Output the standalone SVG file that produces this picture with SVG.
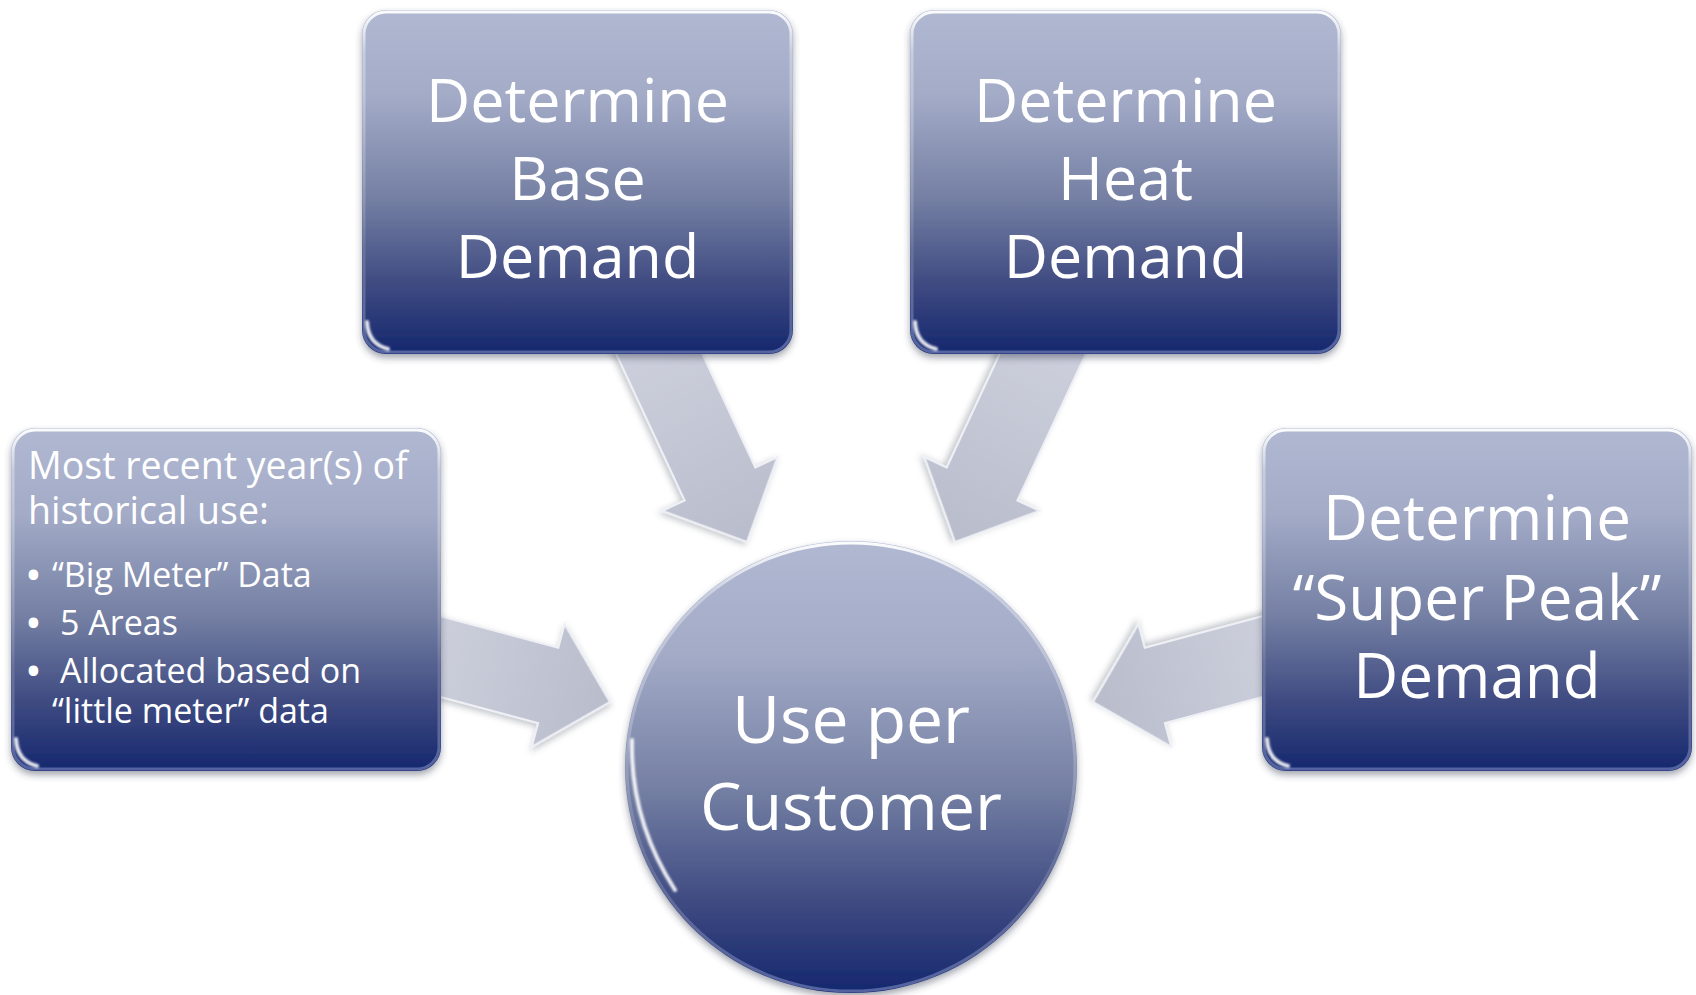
<svg xmlns="http://www.w3.org/2000/svg" width="1696" height="995" viewBox="0 0 1696 995">
<defs>
<linearGradient id="nodeFill2" x1="0" y1="0" x2="0" y2="1">
<stop offset="0" stop-color="#b0b8d2"/>
<stop offset="0.25" stop-color="#a3abc7"/>
<stop offset="0.55" stop-color="#747fa3"/>
<stop offset="0.8" stop-color="#3e4a81"/>
<stop offset="1" stop-color="#15276e"/>
</linearGradient>
<linearGradient id="rim" x1="0" y1="0" x2="0" y2="1">
<stop offset="0" stop-color="#ffffff" stop-opacity="0.95"/>
<stop offset="0.12" stop-color="#ffffff" stop-opacity="0.35"/>
<stop offset="0.7" stop-color="#ffffff" stop-opacity="0.12"/>
<stop offset="1" stop-color="#c8d2ff" stop-opacity="0.35"/>
</linearGradient>
<linearGradient id="arrowFill" x1="0" y1="0" x2="1" y2="0">
<stop offset="0" stop-color="#cdd0dc"/>
<stop offset="1" stop-color="#b9bccb"/>
</linearGradient>
<filter id="shadow" x="-10%" y="-10%" width="120%" height="125%">
<feDropShadow dx="0" dy="4" stdDeviation="3.5" flood-color="#303850" flood-opacity="0.45"/>
</filter>
<filter id="ashadow" x="-20%" y="-20%" width="140%" height="140%">
<feDropShadow dx="1" dy="3" stdDeviation="3" flood-color="#505868" flood-opacity="0.35"/>
</filter>
<filter id="soft" x="-50%" y="-50%" width="200%" height="200%">
<feGaussianBlur stdDeviation="1.2"/>
</filter>
<polygon id="arrowShape" points="-230,-39 -64,-39 -64,-63.5 0,0 -64,63.5 -64,39 -230,39"/>
<polygon id="arrowShapeS" points="-200,-39 -64,-39 -64,-63.5 0,0 -64,63.5 -64,39 -200,39"/>
</defs>
<style>
.box{fill:url(#nodeFill2);filter:url(#shadow);}
.rim{fill:none;stroke:url(#rim);stroke-width:3;}
.gleam{fill:none;stroke:#ffffff;stroke-width:4;stroke-linecap:round;filter:url(#soft);opacity:0.9;}
.arrow{fill:url(#arrowFill);stroke:#eef0f6;stroke-width:2;stroke-linejoin:miter;filter:url(#ashadow);}
.big{font-family:"Open Sans","Noto Sans",sans-serif;font-size:61px;fill:#ffffff;text-anchor:middle;}
.hdr{font-family:"Open Sans","Noto Sans",sans-serif;font-size:37.5px;fill:#ffffff;}
.bul{font-family:"Open Sans","Noto Sans",sans-serif;font-size:34px;fill:#ffffff;}
.dot{font-weight:bold;}
</style>
<rect width="1696" height="995" fill="#ffffff"/>

<g id="connectors">
<use href="#arrowShape" class="arrow" transform="translate(747,542) rotate(65)"/>
<use href="#arrowShape" class="arrow" transform="translate(955,542) rotate(115)"/>
<use href="#arrowShapeS" class="arrow" transform="translate(610,702) rotate(15)"/>
<use href="#arrowShapeS" class="arrow" transform="translate(1093,702) rotate(165)"/>
</g>

<g id="node-base">
<rect class="box" x="362" y="10" width="431" height="344" rx="24"/>
<rect class="rim" x="364" y="12" width="427" height="340" rx="22"/>
<path class="gleam" d="M367,322 Q368,344 388,349"/>
<text class="big" x="577.5" y="122">Determine</text>
<text class="big" x="577.5" y="200">Base</text>
<text class="big" x="577.5" y="278">Demand</text>
</g>

<g id="node-heat">
<rect class="box" x="910" y="10" width="431" height="344" rx="24"/>
<rect class="rim" x="912" y="12" width="427" height="340" rx="22"/>
<path class="gleam" d="M915,322 Q916,344 936,349"/>
<text class="big" x="1125.5" y="122">Determine</text>
<text class="big" x="1125.5" y="200">Heat</text>
<text class="big" x="1125.5" y="278">Demand</text>
</g>

<g id="node-historical">
<rect class="box" x="11" y="428" width="430" height="343" rx="24"/>
<rect class="rim" x="13" y="430" width="426" height="339" rx="22"/>
<path class="gleam" d="M16,739 Q17,761 37,766"/>
<text class="hdr" x="28" y="479">Most recent year(s) of<tspan x="28" y="524">historical use:</tspan></text>
<text class="bul" x="27" y="587"><tspan class="dot">•</tspan><tspan x="52">“Big Meter” Data</tspan></text>
<text class="bul" x="27" y="635"><tspan class="dot">•</tspan><tspan x="60">5 Areas</tspan></text>
<text class="bul" x="27" y="683"><tspan class="dot">•</tspan><tspan x="60">Allocated based on</tspan><tspan x="52" y="723">“little meter” data</tspan></text>
</g>

<g id="node-superpeak">
<rect class="box" x="1262" y="428" width="430" height="343" rx="24"/>
<rect class="rim" x="1264" y="430" width="426" height="339" rx="22"/>
<path class="gleam" d="M1267,739 Q1268,761 1288,766"/>
<text class="big" x="1477" y="540" style="font-size:62px">Determine</text>
<text class="big" x="1477" y="620" style="font-size:62px">“Super Peak”</text>
<text class="big" x="1477" y="698" style="font-size:62px">Demand</text>
</g>

<g id="node-use">
<circle class="box" cx="851" cy="767" r="226"/>
<circle class="rim" cx="851" cy="767" r="224"/>
<path class="gleam" d="M632,740 Q630,820 675,890" opacity="0.35"/>
<text class="big" x="851" y="743" style="font-size:66px">Use per</text>
<text class="big" x="851" y="830" style="font-size:66px">Customer</text>
</g>
</svg>
